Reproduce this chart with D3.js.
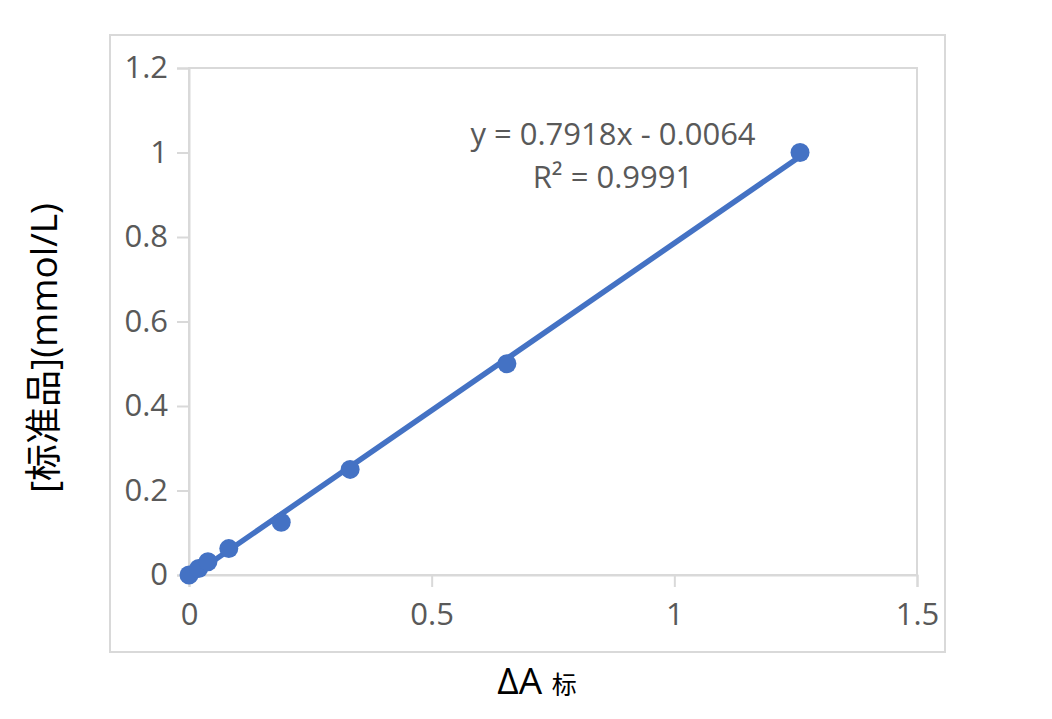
<!DOCTYPE html>
<html><head><meta charset="utf-8">
<script src="https://cdn.jsdelivr.net/npm/d3@7"></script>
<style>body{margin:0;background:#fff;} svg{display:block;}</style>
</head><body>
<script>
const xValues = [0, 0.02, 0.039, 0.082, 0.19, 0.332, 0.655, 1.259];
const yValues = [0, 0.0156, 0.03125, 0.0625, 0.125, 0.25, 0.5, 1];
const xTicks = [0, 0.5, 1, 1.5];
const yTicks = [0, 0.2, 0.4, 0.6, 0.8, 1, 1.2];
const slope = 0.7918, intercept = -0.0064;
const eqLines = ["y = 0.7918x - 0.0064", "R² = 0.9991"];

const W = 1052, H = 719;
const svg = d3.select("body").append("svg").attr("width", W).attr("height", H);
const font = "'Open Sans', 'Noto Sans', sans-serif";

svg.append("rect").attr("x", 110).attr("y", 35).attr("width", 835).attr("height", 617)
  .attr("fill", "none").attr("stroke", "#d9d9d9").attr("stroke-width", 2);

const x = d3.scaleLinear().domain([0, 1.5]).range([189, 917]);
const y = d3.scaleLinear().domain([0, 1.2]).range([575, 68]);

// plot area border
svg.append("rect").attr("x", 189).attr("y", 68).attr("width", 917 - 189).attr("height", 575 - 68)
  .attr("fill", "none").attr("stroke", "#d9d9d9").attr("stroke-width", 2);

const yAxis = svg.append("g").attr("transform", "translate(189,0)")
  .call(d3.axisLeft(y).tickValues(yTicks).tickSize(12).tickPadding(9).tickFormat(d => d3.format("")(d)));
const xAxis = svg.append("g").attr("transform", "translate(0,575)")
  .call(d3.axisBottom(x).tickValues(xTicks).tickSize(12).tickPadding(16).tickFormat(d => d3.format("")(d)));
[yAxis, xAxis].forEach(a => {
  a.select(".domain").attr("stroke", "#d9d9d9").attr("stroke-width", 2);
  a.selectAll(".tick line").attr("stroke", "#d9d9d9").attr("stroke-width", 2);
  a.selectAll(".tick text").attr("fill", "#595959").attr("font-size", 31).attr("font-family", font);
});

// trendline
const x0 = d3.min(xValues), x1 = d3.max(xValues);
svg.append("line")
  .attr("x1", x(x0)).attr("y1", y(slope * x0 + intercept))
  .attr("x2", x(x1)).attr("y2", y(slope * x1 + intercept))
  .attr("stroke", "#4472C4").attr("stroke-width", 5.5).attr("stroke-linecap", "round");

svg.selectAll("circle.pt").data(xValues.map((v, i) => [v, yValues[i]])).enter()
  .append("circle").attr("class", "pt")
  .attr("cx", d => x(d[0])).attr("cy", d => y(d[1])).attr("r", 9.5)
  .attr("fill", "#4472C4");

// equation
svg.selectAll("text.eq").data(eqLines).enter().append("text").attr("class", "eq")
  .attr("x", 613).attr("y", (d, i) => 145 + i * 43)
  .attr("text-anchor", "middle").attr("fill", "#595959")
  .attr("font-size", 31).attr("font-family", font).text(d => d);

// axis titles
const xt = svg.append("text").attr("x", 537).attr("y", 694).attr("text-anchor", "middle")
  .attr("font-family", font).attr("fill", "#000");
xt.append("tspan").attr("font-size", 37).text("ΔA ");
xt.append("tspan").attr("font-size", 25).attr("font-family", "'Noto Sans CJK SC'").text("标");

svg.append("text").attr("transform", "translate(57,348) rotate(-90)")
  .attr("text-anchor", "middle").attr("font-size", 37)
  .attr("font-family", "'Open Sans', 'Noto Sans CJK SC', sans-serif").attr("fill", "#000")
  .text("[标准品](mmol/L)");
</script>
</body></html>
